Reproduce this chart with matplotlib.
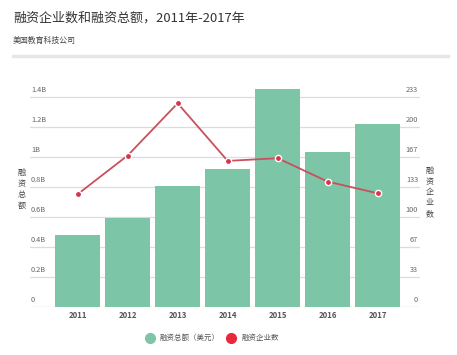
import matplotlib.pyplot as plt
import numpy as np

plt.rcParams['font.family'] = ['Noto Sans CJK SC', 'DejaVu Sans']

# data
years = ['2011', '2012', '2013', '2014', '2015', '2016', '2017']
funding = [0.478e9, 0.593e9, 0.805e9, 0.92e9, 1.451e9, 1.031e9, 1.216e9]
companies = [125, 168, 226, 162, 165, 139, 126]
left_ticks = [0, 0.2e9, 0.4e9, 0.6e9, 0.8e9, 1.0e9, 1.2e9, 1.4e9]
left_labels = ['0', '0.2B', '0.4B', '0.6B', '0.8B', '1B', '1.2B', '1.4B']
right_ticks = [0, 33.33, 66.67, 100, 133.33, 166.67, 200, 233.33]
right_labels = ['0', '33', '67', '100', '133', '167', '200', '233']

bar_color = '#7cc5a6'
line_color = '#c9505e'
dot_color = '#d8344a'
grid_color = '#dcdcdc'
text_color = '#666666'

W, H = 457, 355
fig = plt.figure(figsize=(W / 100, H / 100), dpi=100)

# a. title, subtitle and separator
fig.text(13 / W, 1 - 18 / H, '融资企业数和融资总额，2011年-2017年', fontsize=9.4,
         color='#333333', va='center', ha='left')
fig.text(13 / W, 1 - 40 / H, '美国教育科技公司', fontsize=5.7, color='#444444',
         va='center', ha='left')
fig.add_artist(plt.Line2D([13 / W, 448 / W], [1 - 56 / H, 1 - 56 / H],
                          color='#e6e6e6', lw=2.5, transform=fig.transFigure))

# b. main axes
ax = fig.add_axes([30 / W, 1 - 306.7 / H, 390 / W, 225 / H])
x = np.arange(len(years))
ax.set_xlim(-0.953, 6.846)
ax.set_ylim(0, 1.5e9)
for t in left_ticks:
    ax.axhline(t, color='#c8c8c8' if t == 0 else grid_color, lw=0.9, zorder=0)
ax.bar(x, funding, width=0.9, color=bar_color, zorder=2)
for s in ax.spines.values():
    s.set_visible(False)
ax.set_yticks([])
ax.set_xticks(x)
ax.set_xticklabels(years, fontsize=5.6, color='#555555', fontweight='bold')
ax.tick_params(axis='x', length=0, pad=3)

for t, lab in zip(left_ticks, left_labels):
    ax.annotate(lab, xy=(0, t), xycoords=('axes fraction', 'data'),
                xytext=(1, 3), textcoords='offset pixels', ha='left', va='bottom',
                fontsize=5.3, color=text_color)

# c. company count on twin axis
ax2 = ax.twinx()
ax2.set_ylim(0, 250)
ax2.plot(x, companies, color=line_color, lw=1.3, marker='o', markersize=4.5,
         markerfacecolor=dot_color, markeredgecolor='white', markeredgewidth=1.0,
         zorder=3)
for s in ax2.spines.values():
    s.set_visible(False)
ax2.set_yticks([])
for t, lab in zip(right_ticks, right_labels):
    ax2.annotate(lab, xy=(1, t), xycoords=('axes fraction', 'data'),
                 xytext=(-2, 3), textcoords='offset pixels', ha='right', va='bottom',
                 fontsize=5.3, color=text_color)

# d. vertical axis titles
fig.text(22 / W, 1 - 189 / H, '融\n资\n总\n额', fontsize=5.8, color='#444444',
         ha='center', va='center', linespacing=1.25)
fig.text(430 / W, 1 - 192 / H, '融\n资\n企\n业\n数', fontsize=5.8, color='#444444',
         ha='center', va='center', linespacing=1.25)

# e. legend
ly = 1 - 338 / H
fig.add_artist(plt.Line2D([150 / W], [ly], marker='o', markersize=7,
                          color=bar_color, transform=fig.transFigure))
fig.text(160 / W, ly, '融资总额（美元）', fontsize=5.4, color='#555555', va='center')
fig.add_artist(plt.Line2D([231 / W], [ly], marker='o', markersize=7,
                          color='#e8283c', transform=fig.transFigure))
fig.text(242 / W, ly, '融资企业数', fontsize=5.4, color='#555555', va='center')

fig.savefig('out.png', dpi=100, facecolor='white')
